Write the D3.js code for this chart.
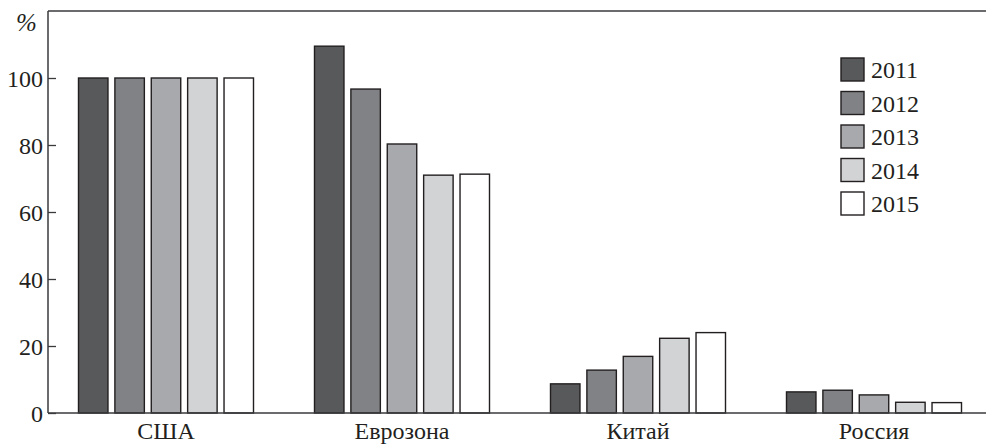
<!DOCTYPE html>
<html>
<head>
<meta charset="utf-8">
<script src="https://cdn.jsdelivr.net/npm/d3@7"></script>
<style>
  html, body { margin: 0; padding: 0; background: #fff; }
  svg { display: block; }
  text { font-family: "Liberation Serif", "Times New Roman", serif; fill: #231f20; }
</style>
</head>
<body>
<svg id="chart" width="986" height="445"></svg>
<script>
// Countries along the x axis and years in the legend
const regions = ["США", "Еврозона", "Китай", "Россия"];
const years = ["2011", "2012", "2013", "2014", "2015"];

// Values per year, in the order of the regions array (%)
const v2011 = [100, 109.5, 8.7, 6.3];
const v2012 = [100, 96.7, 12.8, 6.8];
const v2013 = [100, 80.3, 16.9, 5.4];
const v2014 = [100, 71.0, 22.3, 3.2];
const v2015 = [100, 71.3, 24.0, 3.1];
const seriesValues = [v2011, v2012, v2013, v2014, v2015];

const yTicks = [0, 20, 40, 60, 80, 100];
const fills = ["#58595b", "#808285", "#a7a9ac", "#d1d3d4", "#ffffff"];

const svg = d3.select("#chart");
const plotLeft = 48, plotTop = 11, plotBottom = 413, plotRight = 986;

const x0 = d3.scaleBand().domain(regions).range([plotLeft, plotLeft + 4 * 236]).padding(0);
const groupWidth = 175;
const x1 = d3.scaleBand().domain(years).range([0, groupWidth]).paddingInner(0.19).paddingOuter(0);
const y = d3.scaleLinear().domain([0, 120]).range([plotBottom, plotTop]);

// Bars
const groups = svg.append("g").selectAll("g")
  .data(regions)
  .join("g")
  .attr("transform", r => `translate(${x0(r) + (x0.bandwidth() - groupWidth) / 2},0)`);

groups.selectAll("rect")
  .data((r, ri) => years.map((yr, yi) => ({ yr, yi, v: seriesValues[yi][ri] })))
  .join("rect")
  .attr("x", d => x1(d.yr))
  .attr("width", x1.bandwidth())
  .attr("y", d => y(d.v))
  .attr("height", d => y(0) - y(d.v))
  .attr("fill", d => fills[d.yi])
  .attr("stroke", "#231f20")
  .attr("stroke-width", 1.4);

// Frame: top line and baseline
const frame = svg.append("g").attr("stroke", "#3a3a3c").attr("stroke-width", 1.5).attr("fill", "none");
frame.append("line").attr("x1", plotLeft).attr("x2", plotRight).attr("y1", plotTop).attr("y2", plotTop);
frame.append("line").attr("x1", plotLeft).attr("x2", plotRight).attr("y1", y(0)).attr("y2", y(0));

// Y axis with inward ticks
const yAxis = d3.axisLeft(y).tickValues(yTicks).tickSizeInner(-8).tickSizeOuter(0).tickPadding(6);
const ya = svg.append("g").attr("transform", `translate(${plotLeft},0)`).call(yAxis);
ya.attr("font-size", null).attr("font-family", null);
ya.select(".domain").attr("stroke", "#3a3a3c").attr("stroke-width", 1.5)
  .attr("d", `M0,${plotTop}V${plotBottom}`);
ya.selectAll(".tick line").attr("stroke", "#3a3a3c").attr("stroke-width", 1.3);
ya.selectAll(".tick text")
  .attr("x", -5)
  .attr("font-size", 24)
  .attr("fill", "#231f20")
  .attr("dy", "0.34em");

// Unit label
svg.append("text")
  .attr("x", 16).attr("y", 31)
  .attr("font-size", 25)
  .attr("font-style", "italic")
  .text("%");

// X axis labels
const xAxis = d3.axisBottom(x0).tickSize(0).tickPadding(9);
const xa = svg.append("g").attr("transform", `translate(0,${plotBottom})`).call(xAxis);
xa.attr("font-size", null).attr("font-family", null);
xa.select(".domain").remove();
xa.selectAll(".tick text")
  .attr("font-size", 24)
  .attr("fill", "#231f20");

// Legend
const legend = svg.append("g").attr("transform", "translate(841,58)");
const items = legend.selectAll("g").data(years).join("g")
  .attr("transform", (d, i) => `translate(0,${i * 33.5})`);
items.append("rect")
  .attr("width", 23).attr("height", 23)
  .attr("fill", (d, i) => fills[i])
  .attr("stroke", "#231f20").attr("stroke-width", 1.4);
items.append("text")
  .attr("x", 30).attr("y", 11.5).attr("dy", "0.36em")
  .attr("font-size", 24)
  .text(d => d);
</script>
</body>
</html>
